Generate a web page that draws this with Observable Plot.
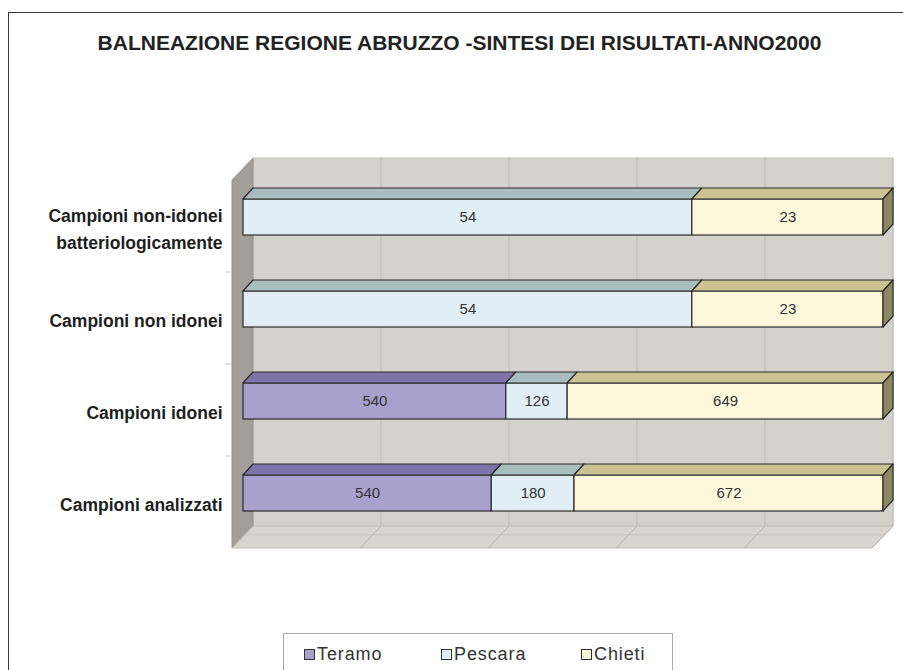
<!DOCTYPE html>
<html><head><meta charset="utf-8">
<script src="https://cdn.jsdelivr.net/npm/d3@7"></script>
<script src="https://cdn.jsdelivr.net/npm/@observablehq/plot@0.6"></script>
<style>
body{margin:0;background:#fff;}
#wrap{position:relative;width:903px;height:670px;overflow:hidden;font-family:"Liberation Sans",Arial,sans-serif;background:#fff;}
#frame{position:absolute;left:8px;top:12px;width:1000px;height:800px;border-left:1.5px solid #3a3a3a;border-top:1.5px solid #3a3a3a;}
#title{position:absolute;left:8px;top:31px;width:903px;text-align:center;font-weight:bold;font-size:21px;color:#222;letter-spacing:0;}
#chart{position:absolute;left:0;top:60px;}
#legend{position:absolute;left:283px;top:633px;width:390px;height:60px;border:1px solid #aaa;box-sizing:border-box;}
.item{position:absolute;top:0;display:flex;align-items:center;height:40px;font-size:18px;color:#333;letter-spacing:0.9px;}
.sw{width:9px;height:9px;border:1.5px solid #333;margin-right:2px;}
g[aria-label="category labels"] text{letter-spacing:1.8px;}
g[aria-label="value labels"] text{letter-spacing:0.8px;}
</style></head>
<body><div id="wrap"><div id="frame"></div><div id="title"></div><div id="chart"></div><div id="legend"></div></div>
<script>
const titleText = "BALNEAZIONE REGIONE ABRUZZO -SINTESI DEI RISULTATI-ANNO2000";
const categories = ["Campioni non-idonei\nbatteriologicamente","Campioni non idonei","Campioni idonei","Campioni analizzati"];
const series = ["Teramo","Pescara","Chieti"];
const teramo = [0,0,540,540];
const pescara = [54,54,126,180];
const chieti = [23,23,649,672];
const gridTicks = [0,0.2,0.4,0.6,0.8,1];
const frontColors = ["#a9a1cd","#e2eef5","#fdf8dc"];
const topColors = ["#7c73a9","#a8bdbd","#cbc394"];
const sideColors = ["#5d5585","#7b8e8f","#8d8860"];
const legendOffsets = [20,157,297];

const seriesValues = [teramo,pescara,chieti];
const rows = [];
categories.forEach((cat,i)=>{
  const total = d3.sum(seriesValues,s=>s[i]);
  let cum = 0;
  series.forEach((s,j)=>{
    const v = seriesValues[j][i];
    if (v>0) rows.push({cat, series:s, si:j, value:v, x1:cum/total, x2:(cum+v)/total, last:false});
    cum += v;
  });
  rows.filter(r=>r.cat===cat).slice(-1)[0].last = true;
});

const OX=11, OY=-9, DX=10, DY=-11, WD=21, WDY=22;
const NS="http://www.w3.org/2000/svg";
function el(tag, attrs, parent){const e=document.createElementNS(NS,tag);for(const k in attrs)e.setAttribute(k,attrs[k]);if(parent)parent.appendChild(e);return e;}
const pts = a=>a.map(p=>p.join(",")).join(" ");

function walls(index, scales){
  const {x,y} = scales;
  const g = el("g",{});
  const x0=x(0), x1=x(1);
  const [yT,yB] = y.range();
  el("polygon",{points:pts([[x0+WD,yT-WDY],[x1+WD,yT-WDY],[x1+WD,yB-WDY],[x0+WD,yB-WDY]]),fill:"#d5d1cd",stroke:"#c6c2be"},g);
  for(const t of gridTicks){
    el("line",{x1:x(t)+WD,x2:x(t)+WD,y1:yT-WDY,y2:yB-WDY,stroke:"#bdb9b5","stroke-width":1},g);
  }
  el("polygon",{points:pts([[x0,yT],[x0+WD,yT-WDY],[x0+WD,yB-WDY],[x0,yB]]),fill:"#a29e9a",stroke:"#9a9692"},g);
  el("polygon",{points:pts([[x0,yB],[x1,yB],[x1+WD,yB-WDY],[x0+WD,yB-WDY]]),fill:"#d8d4d0",stroke:"#c2beba"},g);
  el("line",{x1:x0+WD*0.6,x2:x1+WD*0.6,y1:yB-WDY*0.6,y2:yB-WDY*0.6,stroke:"#cac6c2"},g);
  for(const t of gridTicks){
    el("line",{x1:x(t),y1:yB,x2:x(t)+WD,y2:yB-WDY,stroke:"#b9b5b1"},g);
  }
  const step = y.step();
  for(let i=1;i<categories.length;i++){
    el("line",{x1:x0-7,x2:x0,y1:yT+i*step,y2:yT+i*step,stroke:"#c8c8c8"},g);
  }
  return g;
}

function faces(index, scales){
  const {x,y} = scales;
  const g = el("g",{});
  const bw = y.bandwidth();
  for(const r of rows){
    const yb = y(r.cat)+OY, xa = x(r.x1)+OX, xb = x(r.x2)+OX;
    el("polygon",{points:pts([[xa,yb],[xb,yb],[xb+DX,yb+DY],[xa+DX,yb+DY]]),fill:topColors[r.si],stroke:"#2b2b2b","stroke-width":1.2,"stroke-linejoin":"round"},g);
    if(r.last){
      el("polygon",{points:pts([[xb,yb],[xb+DX,yb+DY],[xb+DX,yb+DY+bw],[xb,yb+bw]]),fill:sideColors[r.si],stroke:"#2b2b2b","stroke-width":1.2,"stroke-linejoin":"round"},g);
    }
  }
  return g;
}

const chart = Plot.plot({
  width:903, height:570, marginLeft:232, marginRight:31, marginTop:120, marginBottom:82,
  x:{domain:[0,1], axis:null},
  y:{domain:categories, axis:null, paddingInner:0.61, paddingOuter:0.305},
  color:{domain:series, range:frontColors},
  style:{background:"transparent", overflow:"visible", fontFamily:"'Liberation Sans',Arial,sans-serif"},
  marks:[
    walls,
    Plot.barX(rows,{x1:"x1",x2:"x2",y:"cat",fill:"series",stroke:"#2b2b2b",strokeWidth:1.2,dx:OX,dy:OY}),
    faces,
    Plot.text(rows,{x:d=>(d.x1+d.x2)/2,y:"cat",text:"value",dx:OX,dy:OY,fontSize:15,fill:"#333",ariaLabel:"value labels"}),
    Plot.text(categories,{y:d=>d,frameAnchor:"left",textAnchor:"end",dx:-10,fontSize:17.5,fontWeight:"bold",fill:"#1e1e1e",lineHeight:1.55,ariaLabel:"category labels"})
  ]
});
document.getElementById("chart").appendChild(chart);
document.getElementById("title").textContent = titleText;

const lg = document.getElementById("legend");
series.forEach((s,j)=>{
  const it=document.createElement("div");it.className="item";it.style.left=legendOffsets[j]+"px";
  const sw=document.createElement("div");sw.className="sw";sw.style.background=frontColors[j];
  it.appendChild(sw);it.appendChild(document.createTextNode(s));lg.appendChild(it);
});
</script></body></html>
